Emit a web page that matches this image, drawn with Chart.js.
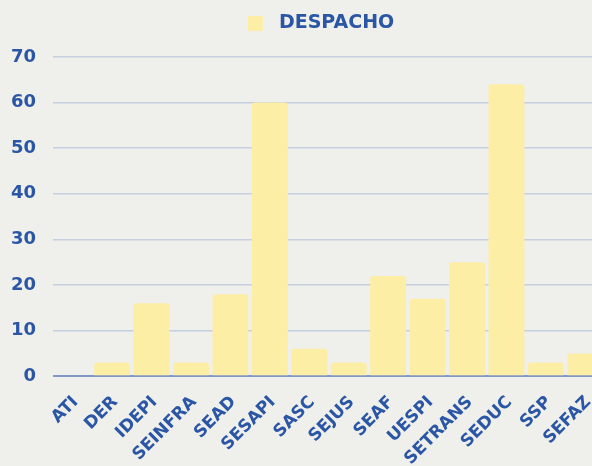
<!DOCTYPE html>
<html>
<head>
<meta charset="utf-8">
<script src="https://cdn.jsdelivr.net/npm/chart.js@4.4.1/dist/chart.umd.min.js"></script>
<style>
  html, body { margin: 0; padding: 0; overflow: hidden; background: #EFEFEB; }
  #wrap { position: absolute; left: 0; top: 0; width: 642px; height: 477px; }
</style>
</head>
<body>
<div id="wrap"><canvas id="c"></canvas></div>
<script>
const categories = ["ATI","DER","IDEPI","SEINFRA","SEAD","SESAPI","SASC","SEJUS","SEAF","UESPI","SETRANS","SEDUC","SSP","SEFAZ"];
const despacho = [0, 3, 16, 3, 18, 60, 6, 3, 22, 17, 25, 64, 3, 5];
const seriesLabel = "DESPACHO";
const yTicks = [0, 10, 20, 30, 40, 50, 60, 70];

const BLUE = '#2A56A5';
const FONT = '"DejaVu Sans", sans-serif';

const legendSpacer = {
  id: 'legendSpacer',
  beforeInit(chart) {
    const origFit = chart.legend.fit;
    chart.legend.fit = function () {
      origFit.bind(chart.legend)();
      this.height += 14;
    };
  }
};

new Chart(document.getElementById('c'), {
  type: 'bar',
  data: {
    labels: categories,
    datasets: [{
      label: seriesLabel,
      data: despacho,
      backgroundColor: '#FDEEA6',
      borderWidth: 0,
      borderRadius: 3,
      barPercentage: 0.91,
      categoryPercentage: 1.0
    }]
  },
  plugins: [legendSpacer],
  options: {
    responsive: true,
    maintainAspectRatio: false,
    animation: false,
    layout: { padding: { left: 0, right: 0, top: 4, bottom: 0 } },
    plugins: {
      legend: {
        display: true,
        position: 'top',
        labels: {
          color: BLUE,
          font: { family: FONT, size: 19, weight: 'bold' },
          boxWidth: 15,
          boxHeight: 15,
          padding: 10,
          generateLabels: (chart) => {
            const items = Chart.defaults.plugins.legend.labels.generateLabels(chart);
            items.forEach(it => { it.text = ' ' + it.text; it.lineWidth = 0; it.strokeStyle = 'rgba(0,0,0,0)'; });
            return items;
          }
        }
      },
      tooltip: { enabled: false }
    },
    scales: {
      x: {
        grid: { display: false },
        border: { display: false },
        afterFit: (s) => { s.paddingLeft = 0; s.paddingRight = 0; },
        ticks: {
          color: BLUE,
          font: { family: FONT, size: 17, weight: 'bold' },
          minRotation: 45,
          maxRotation: 45,
          autoSkip: false,
          padding: 8,
          labelOffset: 3
        }
      },
      y: {
        min: 0,
        max: 70,
        afterBuildTicks: (s) => { s.ticks = yTicks.map(v => ({ value: v })); },
        afterFit: (s) => { s.width = 53; },
        grid: {
          drawTicks: false,
          color: (ctx) => ctx.tick && ctx.tick.value === 0 ? '#8198C6' : '#C5CFE0',
          lineWidth: (ctx) => ctx.tick && ctx.tick.value === 0 ? 2 : 1.5
        },
        border: { display: false },
        ticks: {
          color: BLUE,
          font: { family: FONT, size: 18, weight: 'bold' },
          padding: 17
        }
      },
      yR: {
        position: 'right',
        display: true,
        grid: { display: false, drawTicks: false },
        border: { display: false },
        ticks: { display: false },
        afterFit: (s) => { s.width = 37; }
      }
    }
  }
});
</script>
</body>
</html>
